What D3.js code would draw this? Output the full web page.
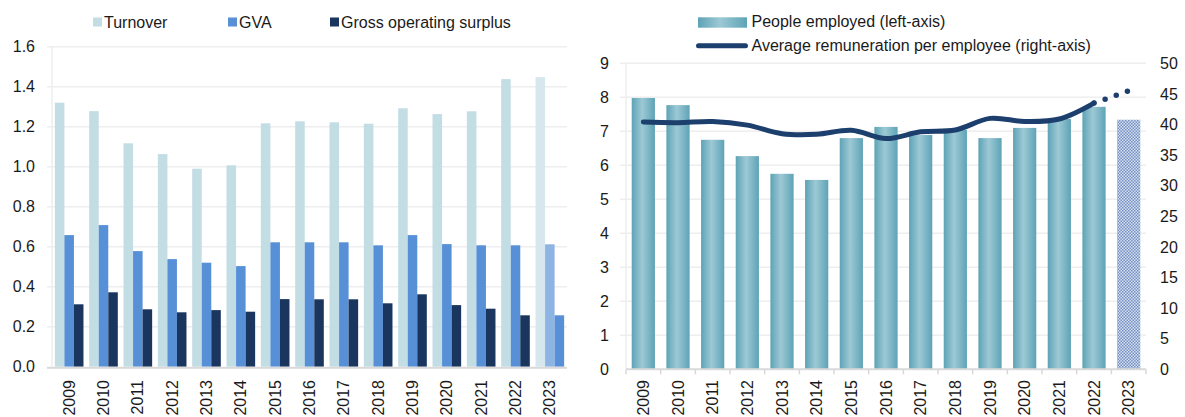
<!DOCTYPE html>
<html>
  <head>
    <meta charset="UTF-8">
    <title>Turnover, GVA, employment</title>
    <style>
      body { margin: 0; background: #fff; }
      svg text { font-family: "Liberation Sans", Arial, sans-serif; fill: #1a1a1a; font-size: 16px; }
    </style>
  </head>
  <body>
    <svg width="1185" height="417"></svg>

    <script src="https://d3js.org/d3.v7.min.js"></script>
    <script>

/* DATA */
var years = ["2009","2010","2011","2012","2013","2014","2015","2016","2017","2018","2019","2020","2021","2022","2023"];

// left chart, values
var turnover = [1.32, 1.278, 1.117, 1.063, 0.99, 1.007, 1.217, 1.227, 1.222, 1.215, 1.292, 1.263, 1.277, 1.438, 1.448];
var gva      = [0.658, 0.708, 0.578, 0.538, 0.52, 0.503, 0.622, 0.622, 0.622, 0.607, 0.658, 0.613, 0.607, 0.607, 0.612];
var gos      = [0.312, 0.372, 0.287, 0.272, 0.283, 0.275, 0.338, 0.337, 0.337, 0.317, 0.362, 0.308, 0.29, 0.257, 0.257];
var leftSeries = ["Turnover", "GVA", "Gross operating surplus"];
var leftTicks = [0, 0.2, 0.4, 0.6, 0.8, 1.0, 1.2, 1.4, 1.6];

// right chart
var employed = [7.98, 7.77, 6.75, 6.27, 5.75, 5.57, 6.80, 7.13, 6.89, 7.04, 6.80, 7.10, 7.36, 7.72, 7.34];
var remuneration = [40.4, 40.3, 40.5, 39.9, 38.5, 38.4, 39.05, 37.7, 38.8, 39.1, 41.0, 40.5, 40.9, 43.5, 45.5];
var rightLabels = ["People employed (left-axis)", "Average remuneration per employee (right-axis)"];
var employedTicks = d3.range(0, 10);
var remunTicks = d3.range(0, 55, 5);

var colors = { turnover: "#c3dde4", gva: "#5790d6", gos: "#1a365e", line: "#1c3f6e" };
var colors2023 = ["#d6e7ee", "#8eb4e4", "#5790d6"]; // estimate year drawn lighter

var svg = d3.select("svg");
var defs = svg.append("defs");

var grad = defs.append("linearGradient").attr("id", "barGrad").attr("x1", "0").attr("x2", "1").attr("y1", "0").attr("y2", "0");
grad.append("stop").attr("offset", "0%").attr("stop-color", "#5ea3b6");
grad.append("stop").attr("offset", "45%").attr("stop-color", "#9dc9d5");
grad.append("stop").attr("offset", "100%").attr("stop-color", "#5ea3b6");

var pat = defs.append("pattern").attr("id", "checks").attr("patternUnits", "userSpaceOnUse").attr("width", 3).attr("height", 3);
pat.append("rect").attr("width", 3).attr("height", 3).attr("fill", "#d3deef");
pat.append("rect").attr("width", 1.5).attr("height", 1.5).attr("fill", "#7590c4");
pat.append("rect").attr("x", 1.5).attr("y", 1.5).attr("width", 1.5).attr("height", 1.5).attr("fill", "#7590c4");

/* LEFT CHART */
var L = { left: 52, right: 567, top: 46.7, bottom: 366.7 };

var x0 = d3.scaleBand().domain(years).range([L.left, L.right]).padding(0);
var x1 = d3.scaleBand().domain([0, 1, 2]).range([0, x0.bandwidth()]).paddingInner(0).paddingOuter(0.3);
var yL = d3.scaleLinear().domain([0, 1.6]).range([L.bottom, L.top]);

var gL = svg.append("g");

// gridlines
gL.append("g").selectAll("line")
  .data(leftTicks.slice(1))
  .enter().append("line")
    .attr("x1", L.left - 5).attr("x2", L.right)
    .attr("y1", function(d){ return yL(d); }).attr("y2", function(d){ return yL(d); })
    .attr("stroke", "#eeeeee").attr("stroke-width", 1.5);

gL.append("line")
  .attr("x1", L.left).attr("x2", L.left).attr("y1", L.top).attr("y2", L.bottom)
  .attr("stroke", "#eeeeee").attr("stroke-width", 1.5);

// tick labels
gL.append("g").selectAll("text")
  .data(leftTicks)
  .enter().append("text")
    .attr("x", 35).attr("y", function(d){ return yL(d); })
    .attr("dy", "0.35em").attr("text-anchor", "end")
    .text(function(d){ return d.toFixed(1); });

// bars
var leftData = years.map(function(y, i){ return [turnover[i], gva[i], gos[i]]; });
var baseCols = [colors.turnover, colors.gva, colors.gos];

gL.append("g").selectAll("g")
  .data(leftData)
  .enter().append("g")
    .attr("transform", function(d, i){ return "translate(" + x0(years[i]) + ",0)"; })
  .each(function(d, i){
    d3.select(this).selectAll("rect")
      .data(d)
      .enter().append("rect")
        .attr("x", function(v, j){ return x1(j); })
        .attr("width", x1.bandwidth())
        .attr("y", function(v){ return yL(v); })
        .attr("height", function(v){ return yL(0) - yL(v); })
        .attr("fill", function(v, j){ return years[i] === "2023" ? colors2023[j] : baseCols[j]; });
  });

// baseline
gL.append("line")
  .attr("x1", L.left - 5).attr("x2", L.right).attr("y1", L.bottom + 1).attr("y2", L.bottom + 1)
  .attr("stroke", "#d9d9d9").attr("stroke-width", 2);

// year labels
gL.append("g").selectAll("text")
  .data(years)
  .enter().append("text")
    .attr("transform", function(d){ return "translate(" + (x0(d) + x0.bandwidth() / 2) + ",380) rotate(-90)"; })
    .attr("dy", "0.35em").attr("text-anchor", "end")
    .text(function(d){ return d; });

// legend
var legL = [{ x: 93, c: colors.turnover }, { x: 228, c: colors.gva }, { x: 330, c: colors.gos }];
var lg = gL.append("g").selectAll("g").data(leftSeries).enter().append("g")
  .attr("transform", function(d, i){ return "translate(" + legL[i].x + ",17.5)"; });
lg.append("rect").attr("width", 9).attr("height", 9).attr("fill", function(d, i){ return legL[i].c; });
lg.append("text").attr("x", 11).attr("y", 10).text(function(d){ return d; });

/* RIGHT CHART */
var R = { left: 626, right: 1146, top: 63.3, bottom: 369.3 };

var xR = d3.scaleBand().domain(years).range([R.left, R.right]).paddingInner(0.33).paddingOuter(0.165);
var yE = d3.scaleLinear().domain([0, 9]).range([R.bottom, R.top]);
var yM = d3.scaleLinear().domain([0, 50]).range([R.bottom, R.top]);

var gR = svg.append("g");

gR.append("g").selectAll("line")
  .data(employedTicks.slice(1))
  .enter().append("line")
    .attr("x1", R.left - 6).attr("x2", R.right)
    .attr("y1", function(d){ return yE(d); }).attr("y2", function(d){ return yE(d); })
    .attr("stroke", "#eeeeee").attr("stroke-width", 1.5);

gR.append("line")
  .attr("x1", R.left).attr("x2", R.left).attr("y1", R.top).attr("y2", R.bottom)
  .attr("stroke", "#eeeeee").attr("stroke-width", 1.5);

gR.append("g").selectAll("text")
  .data(employedTicks)
  .enter().append("text")
    .attr("x", 609).attr("y", function(d){ return yE(d); })
    .attr("dy", "0.35em").attr("text-anchor", "end")
    .text(function(d){ return d; });

gR.append("g").selectAll("text")
  .data(remunTicks)
  .enter().append("text")
    .attr("x", 1160).attr("y", function(d){ return yM(d); })
    .attr("dy", "0.35em").attr("text-anchor", "start")
    .text(function(d){ return d; });

// bars
gR.append("g").selectAll("rect")
  .data(employed)
  .enter().append("rect")
    .attr("x", function(d, i){ return xR(years[i]); })
    .attr("width", xR.bandwidth())
    .attr("y", function(d){ return yE(d); })
    .attr("height", function(d){ return yE(0) - yE(d); })
    .attr("fill", function(d, i){ return years[i] === "2023" ? "url(#checks)" : "url(#barGrad)"; });

// axis line + ticks between categories
gR.append("line")
  .attr("x1", R.left).attr("x2", R.right).attr("y1", R.bottom).attr("y2", R.bottom)
  .attr("stroke", "#d9d9d9").attr("stroke-width", 2);

var bounds = years.map(function(d){ return xR(d) - xR.step() * xR.paddingOuter(); }).concat([R.right]);
gR.append("g").selectAll("line")
  .data(bounds)
  .enter().append("line")
    .attr("x1", function(d){ return d; }).attr("x2", function(d){ return d; })
    .attr("y1", R.bottom).attr("y2", R.bottom + 5)
    .attr("stroke", "#d9d9d9").attr("stroke-width", 1.5);

// remuneration line, solid to 2022 then dotted
var pts = remuneration.map(function(v, i){ return [xR(years[i]) + xR.bandwidth() / 2, yM(v)]; });
var line = d3.line().curve(d3.curveCatmullRom.alpha(0.5));

gR.append("path")
  .attr("d", line(pts.slice(0, 14)))
  .attr("fill", "none").attr("stroke", colors.line).attr("stroke-width", 5).attr("stroke-linecap", "round");

gR.append("path")
  .attr("d", d3.line()(pts.slice(13)))
  .attr("fill", "none").attr("stroke", colors.line).attr("stroke-width", 5.5)
  .attr("stroke-linecap", "round").attr("stroke-dasharray", "0 11.8");

// year labels
gR.append("g").selectAll("text")
  .data(years)
  .enter().append("text")
    .attr("transform", function(d){ return "translate(" + (xR(d) + xR.bandwidth() / 2) + ",380) rotate(-90)"; })
    .attr("dy", "0.35em").attr("text-anchor", "end")
    .text(function(d){ return d; });

// legend
gR.append("rect").attr("x", 698).attr("y", 17.3).attr("width", 49).attr("height", 10.4).attr("fill", "url(#barGrad)");
gR.append("text").attr("x", 751.5).attr("y", 27).text(rightLabels[0]);
gR.append("line").attr("x1", 698.5).attr("x2", 745.5).attr("y1", 45.7).attr("y2", 45.7)
  .attr("stroke", colors.line).attr("stroke-width", 5).attr("stroke-linecap", "round");
gR.append("text").attr("x", 751.5).attr("y", 50.5).text(rightLabels[1]);

    </script>
  </body>
</html>
